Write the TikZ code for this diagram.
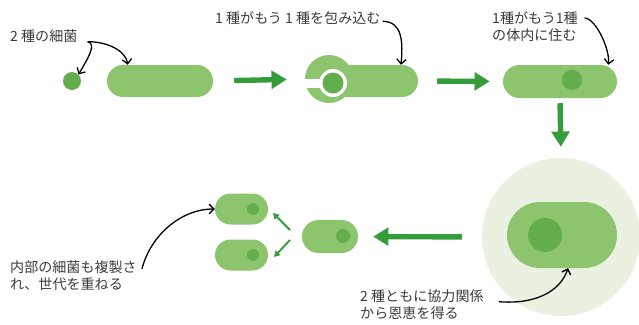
\documentclass[tikz,border=0pt]{standalone}
\usepackage{fontspec}
\setmainfont{Noto Sans CJK JP}
\usetikzlibrary{arrows.meta}

\definecolor{verdeclaro}{RGB}{141,196,110}
\definecolor{verdeescuro}{RGB}{98,174,76}
\definecolor{verdeseta}{RGB}{52,156,58}
\definecolor{verdepalido}{RGB}{234,241,224}
\definecolor{texto}{RGB}{60,60,60}

\begin{document}
\begin{tikzpicture}[x=0.03cm, y=-0.03cm,
    celula/.style 2 args={fill=verdeclaro, inner sep=0pt, minimum width=#1*0.03cm, minimum height=#2*0.03cm, rounded corners=#2*0.015cm},
    nucleo/.style={circle, fill=verdeescuro, inner sep=0pt, minimum size=#1*0.03cm},
    seta/.style={draw=verdeseta, line width=4.6pt, -{Triangle[length=13pt,width=15pt]}},
    setinha/.style={draw=verdeseta, line width=1.6pt, -{Triangle[length=5pt,width=5.5pt]}},
    nota/.style={draw=black, line width=1.1pt, -{Straight Barb[length=4pt,width=8pt]}},
    rotulo/.style={font=\fontsize{12}{14.5}\selectfont, text=texto, inner sep=0pt, align=left, anchor=west}]
    \useasboundingbox (0,0) rectangle (639,324);

    % Os dois tipos de bactéria
    \node[nucleo=18] (bact) at (72,81) {};
    \node[celula={106}{32}] (bastao) at (160,81) {};

    % Uma envolve a outra
    \node[circle, fill=verdeclaro, inner sep=0pt, minimum size=48*0.03cm] (cabeca) at (329,79) {};
    \node[celula={92}{32}] (corpo) at (372,81) {};
    \fill[white] (300,79) rectangle (322,88);
    \node[circle, fill=white, inner sep=0pt, minimum size=28*0.03cm] (anel) at (333,83) {};
    \node[nucleo=21] (engolida) at (333,83) {};

    % Vive dentro da hospedeira
    \node[celula={114}{33}] (hospedeira) at (560,81.5) {};
    \node[nucleo=20] (interna) at (572,80) {};

    % Simbiose
    \node[circle, fill=verdepalido, inner sep=0pt, minimum size=158*0.03cm] (simbiose) at (561,237) {};
    \node[celula={110}{66}] (grande) at (562,235) {};
    \node[nucleo=34] (grandenuc) at (545,235) {};

    % Divisão
    \node[celula={56}{33}] (mae) at (330,236.5) {};
    \node[nucleo=14] (maenuc) at (343,236) {};
    \foreach \nome/\y in {cima/209, baixo/255} {
        \node[celula={53}{31}] (\nome) at (241.5,\y) {};
        \node[nucleo=12] (\nome nuc) at (253,\y) {};
    }

    % Setas verdes
    \draw[seta, shorten <=0.63cm, shorten >=0.54cm] (bastao.east) -- (cabeca.west);
    \draw[seta, shorten <=0.57cm, shorten >=0.39cm] (corpo.east) -- (hospedeira.west);
    \draw[seta, shorten <=0.15cm, shorten >=0.33cm] (hospedeira.south) -- (simbiose.north);
    \draw[seta, shorten <=0.6cm, shorten >=0.45cm] (simbiose.west) -- (mae.east);
    \coordinate (d1) at (290,230);
    \coordinate (d1f) at (273,213);
    \coordinate (d2) at (290,240);
    \coordinate (d2f) at (274,257);
    \draw[setinha] (d1) -- (d1f);
    \draw[setinha] (d2) -- (d2f);

    % Rótulos
    \node[rotulo] (txtbact) at (10,36) {2 種の細菌};
    \node[rotulo] (txtenvolve) at (215,18) {1 種がもう 1 種を包み込む};
    \node[rotulo] (txtdentro) at (492,26.5) {1種がもう1種\\の体内に住む};
    \node[rotulo] (txtcoop) at (360,305) {2 種ともに協力関係\\から恩恵を得る};
    \node[rotulo] (txtrepl) at (10,275.5) {内部の細菌も複製さ\\れ、世代を重ねる};

    % Setas pretas dos rótulos
    \draw[nota] ([xshift=0.3cm, yshift=-0.17cm]txtbact.east) .. controls +(10,2) and +(8,-14) .. (bact.north east);
    \draw[nota] ([xshift=0.3cm, yshift=-0.17cm]txtbact.east) .. controls +(20,0) and +(-2,-14) .. ([xshift=0.63cm]bastao.north west);
    \draw[nota] ([xshift=0.06cm, yshift=-0.1cm]txtenvolve.east) .. controls +(20,0) and +(2,-22) .. ([xshift=0.87cm]corpo.north);
    \draw[nota] ([xshift=0.2cm, yshift=-0.2cm]txtdentro.north east) .. controls +(12,1) and +(2,-14) .. ([xshift=-0.27cm]hospedeira.north east);
    \draw[nota] ([xshift=0.45cm, yshift=0.1cm]txtcoop.east) .. controls +(35,3) and +(-8,24) .. ([xshift=0.18cm]grande.south);
    \draw[nota] ([xshift=0.15cm, yshift=0.2cm]txtrepl.east) .. controls +(8,-32) and +(-35,0) .. (cima.west);
\end{tikzpicture}
\end{document}
